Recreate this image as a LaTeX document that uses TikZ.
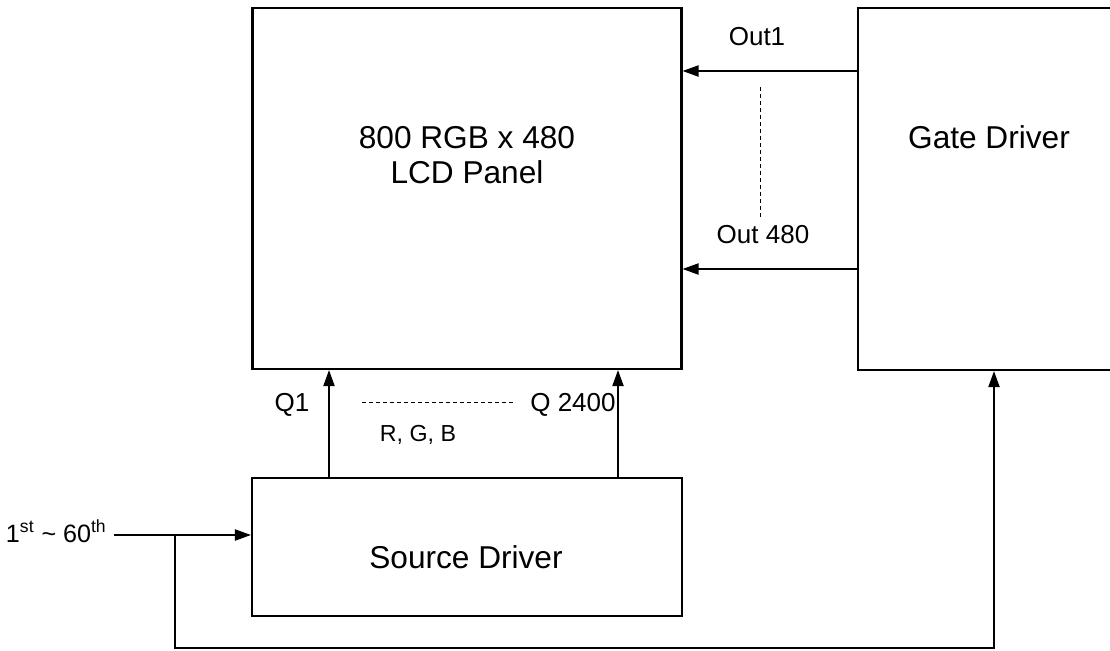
\documentclass[tikz,border=0pt]{standalone}
\usepackage{fontspec}
\setmainfont{Liberation Sans}
\usetikzlibrary{positioning,arrows.meta}

\begin{document}
\begin{tikzpicture}[
  x=0.02cm, y=-0.02cm,
  block/.style={draw, line width=1.2pt, inner sep=0pt},
  big/.style={font=\fontsize{18}{19.9}\selectfont, align=center},
  lbl/.style={font=\fontsize{14.8}{17}\selectfont},
  small/.style={font=\fontsize{13.2}{15}\selectfont},
  arr/.style={line width=1.1pt, -{Triangle[length=0.32cm, width=0.22cm]}},
  dots/.style={line width=0.5pt, dash pattern=on 0.08cm off 0.06cm}
]
% Frame: 1 unit = 1 pixel of the 1110x650 picture
\useasboundingbox (0,0) rectangle (1110,650);
\clip (0,0) rectangle (1110,650);

% Blocks
\node[block, minimum width=8.58cm, minimum height=7.22cm] (panel) at (467,188.5) {};
\node[big] (paneltext) at (467,155.5) {800 RGB x 480\\LCD Panel};
\node[block, minimum width=5.14cm, minimum height=7.24cm] (gate) at (986.5,189) {};
\node[big] (gatetext) at (989,137) {Gate Driver};
\node[block, minimum width=8.6cm, minimum height=2.76cm] (source) at (467,547) {};
\node[big] (sourcetext) at (466,557) {Source Driver};

% Gate outputs
\coordinate (o1) at (0,71);
\coordinate (o480) at (0,269);
\draw[arr] (o1 -| gate.west) -- (o1 -| panel.east);
\draw[arr] (o480 -| gate.west) -- (o480 -| panel.east);
\node[lbl] (out1) at (757,37) {Out1};
\node[lbl] (out480) at (763,235) {Out 480};
\draw[dots] (760,87) -- (760,218);

% Source outputs
\coordinate (q1) at (329,0);
\coordinate (q2400) at (618,0);
\draw[arr] (q1 |- source.north) -- (q1 |- panel.south);
\draw[arr] (q2400 |- source.north) -- (q2400 |- panel.south);
\node[lbl] (q1text) at (292,405) {Q1};
\node[lbl] (q2400text) at (573,405) {Q 2400};
\draw[dots] (362,402) -- (513,402);
\node[small] (rgb) at (418,435) {R, G, B};

% Input and feedback to gate driver
\coordinate (in) at (114,535);
\coordinate (split) at (175,535);
\coordinate (fb) at (994,648);
\node[lbl, font=\fontsize{14.3}{17}\selectfont, anchor=base east, inner sep=0pt] (intext) at (107,542)
  {1\textsuperscript{st} \textasciitilde{} 60\textsuperscript{th}};
\draw[arr] (in) -- (in -| source.west);
\draw[arr] (split) |- (fb) -- (fb |- gate.south);
\end{tikzpicture}
\end{document}
